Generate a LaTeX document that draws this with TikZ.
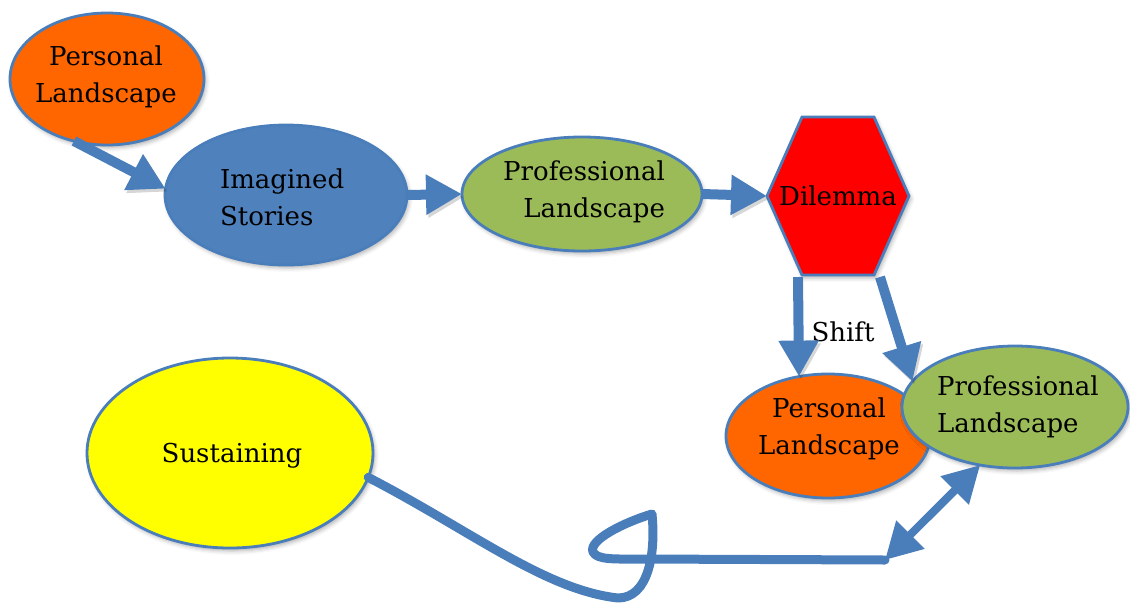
\documentclass[tikz,border=0pt]{standalone}
\usepackage{fontspec}
\setmainfont{DejaVu Serif}
\usetikzlibrary{arrows.meta,shapes.geometric,shadows.blur}
\definecolor{edgeblue}{RGB}{74,126,187}
\definecolor{storyblue}{RGB}{79,129,189}
\definecolor{landorange}{RGB}{255,102,0}
\definecolor{landgreen}{RGB}{155,187,89}
\definecolor{dilred}{RGB}{255,0,0}
\definecolor{sustyellow}{RGB}{255,255,0}
\begin{document}
\begin{tikzpicture}[x=1pt,y=-1pt,
  softshadow/.style={blur shadow={shadow xshift=2pt, shadow yshift=-3pt,
      shadow blur radius=4pt, shadow opacity=30}},
  lineshadow/.style={preaction={draw=black, opacity=0.16,
      transform canvas={xshift=2pt, yshift=-3pt}}},
  bubble/.style={ellipse, draw=edgeblue, line width=2.8pt, inner sep=0pt,
      outer sep=0pt, softshadow},
  lbl/.style={font=\fontsize{26}{37}\selectfont, inner sep=0pt, outer sep=0pt},
  flow/.style={draw=edgeblue, line width=10pt, lineshadow,
      -{Triangle[length=36pt,width=38pt]}},
  wire/.style={draw=edgeblue, line width=9pt, line join=round, line cap=round,
      lineshadow},
  twoway/.style={draw=edgeblue, line width=8pt, lineshadow,
      {Triangle[length=36pt,width=38pt]}-{Triangle[length=36pt,width=38pt]}}
]
\useasboundingbox (0,0) rectangle (1130,603);

% story chain across the top
\node[bubble, fill=landorange, minimum width=194pt, minimum height=132pt] (pers1) at (107,79) {};
\node[lbl, align=center] (pers1t) at (106,77) {Personal\\Landscape};

\node[bubble, fill=storyblue, minimum width=242pt, minimum height=140pt] (imag) at (286,195) {};
\node[lbl, align=left, anchor=west] (imagt) at (220,197) {Imagined\\Stories};

\node[bubble, fill=landgreen, minimum width=240pt, minimum height=114pt] (prof1) at (582,194) {};
\node[lbl, align=right, anchor=east] (prof1t) at (665,192) {Professional\\Landscape};

% the dilemma hexagon
\path[draw=edgeblue, line width=2.8pt, fill=dilred, line join=miter, softshadow]
  (802,117) coordinate (hx1) -- (874,117) coordinate (hx2)
  -- (909,196) coordinate (hx3) -- (874,275) coordinate (hx4)
  -- (802,275) coordinate (hx5) -- (767,196) coordinate (hx6) -- cycle;
\node[lbl, anchor=base] (dil) at (838,205) {Dilemma};
\coordinate (hxo1) at (798,277);
\coordinate (hxo2) at (880,277);

% the two landscapes after the shift
\node[bubble, fill=landorange, minimum width=204pt, minimum height=124pt] (pers2) at (828,436) {};
\node[lbl, align=center] (pers2t) at (829,429) {Personal\\Landscape};

\node[bubble, fill=landgreen, minimum width=226pt, minimum height=122pt] (prof2) at (1015,407) {};
\node[lbl, align=left, anchor=west] (prof2t) at (937,407) {Professional\\Landscape};

\node[lbl, anchor=base] (shift) at (843,341) {Shift};

% sustaining
\node[bubble, fill=sustyellow, minimum width=286pt, minimum height=190pt] (sus) at (230,453) {};
\node[lbl, anchor=base] (sust) at (232,462) {Sustaining};

% connectors
\draw[flow] (pers1.-118) -- (imag.177);
\draw[flow] (imag.east) -- (prof1.west);
\draw[flow] (prof1.east) -- (hx6);
\draw[flow] (hxo1) -- (pers2.116);
\draw[flow] (hxo2) -- (prof2.166);

\coordinate (meet) at (885,560);
\draw[wire] (sus.-10) .. controls (470,530) and (545,590) .. (618,598)
  .. controls (648,598) and (656,555) .. (652,514)
  .. controls (625,522) and (588,540) .. (593,552)
  .. controls (597,560) and (615,559) .. (640,559) -- (meet);
\draw[twoway] (meet) -- (prof2.-121);
\end{tikzpicture}
\end{document}
